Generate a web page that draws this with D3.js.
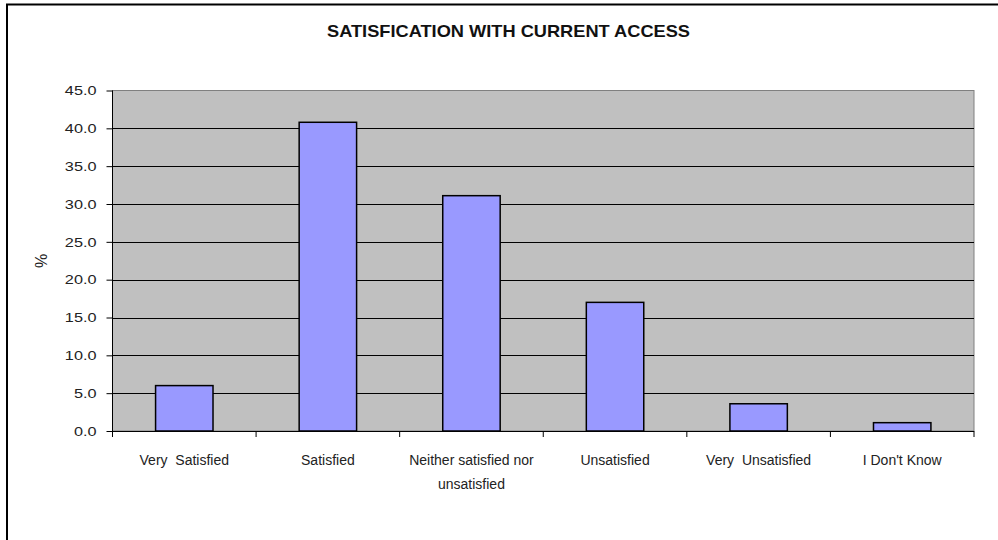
<!DOCTYPE html>
<html><head><meta charset="utf-8">
<script src="https://cdn.jsdelivr.net/npm/d3@7"></script>
<style>body{margin:0;background:#fff}svg{display:block}</style>
</head><body>
<svg id="c" width="998" height="540"></svg>
<script>
const categories = [["Very  Satisfied"], ["Satisfied"], ["Neither satisfied nor", "unsatisfied"], ["Unsatisfied"], ["Very  Unsatisfied"], ["I Don't Know"]];
const values = [6.0, 40.8, 31.1, 17.0, 3.6, 1.1];
const yTicks = [0, 5, 10, 15, 20, 25, 30, 35, 40, 45];
const title = "SATISFICATION WITH CURRENT ACCESS";
const yLabel = "%";

const svg = d3.select("#c");
const L = 112.5, R = 974, T = 90.5, B = 431;
const font = "'Liberation Sans', Arial, sans-serif";

// outer frame
svg.append("rect").attr("x", 7).attr("y", 4.5).attr("width", 1100).attr("height", 600)
  .attr("fill", "#fff").attr("stroke", "#000").attr("stroke-width", 2);

const x = d3.scaleBand().domain(d3.range(categories.length)).range([L, R]).paddingInner(0.6).paddingOuter(0.3);
const y = d3.scaleLinear().domain([0, 45]).range([B, T]);

svg.append("rect").attr("x", L).attr("y", T).attr("width", R - L).attr("height", B - T)
  .attr("fill", "#C0C0C0").attr("stroke", "#808080").attr("stroke-width", 1);

// gridlines
svg.append("g").selectAll("line").data(yTicks.filter(d => d > 0 && d < 45)).join("line")
  .attr("x1", L).attr("x2", R).attr("y1", d => Math.round(y(d)) + 0.5).attr("y2", d => Math.round(y(d)) + 0.5)
  .attr("stroke", "#000").attr("stroke-width", 1);

// bars
svg.append("g").selectAll("rect").data(values).join("rect")
  .attr("x", (d, i) => x(i)).attr("width", x.bandwidth())
  .attr("y", d => y(d)).attr("height", d => B - y(d))
  .attr("fill", "#9999FF").attr("stroke", "#000").attr("stroke-width", 1.5);

// y axis
const yAxis = d3.axisLeft(y).tickValues(yTicks).tickSize(6).tickPadding(10).tickFormat(d3.format(".1f"));
const gy = svg.append("g").attr("transform", `translate(${L},0)`).call(yAxis);
gy.select(".domain").attr("stroke", "#000").attr("d", `M0,${T}V${B + 6}`);
gy.selectAll(".tick line").attr("stroke", "#000");
gy.selectAll(".tick text").attr("font-family", font).attr("font-size", 13).attr("fill", "#222")
  .each(function () { const w = this.getComputedTextLength(); d3.select(this).attr("textLength", w * 1.25).attr("lengthAdjust", "spacingAndGlyphs"); });

// x axis
const step = (R - L) / categories.length;
const gx = svg.append("g");
gx.append("line").attr("x1", L).attr("x2", R).attr("y1", B + 0.5).attr("y2", B + 0.5).attr("stroke", "#000");
gx.selectAll("line.t").data(d3.range(categories.length + 1)).join("line").attr("class", "t")
  .attr("x1", i => L + i * step).attr("x2", i => L + i * step)
  .attr("y1", B).attr("y2", B + 6).attr("stroke", "#000");
gx.selectAll("text").data(categories).join("text")
  .attr("text-anchor", "middle").attr("font-family", font).attr("font-size", 14).attr("fill", "#222")
  .style("white-space", "pre")
  .each(function (d, i) {
    const t = d3.select(this);
    d.forEach((line, j) => {
      t.append("tspan").attr("x", x(i) + x.bandwidth() / 2).attr("y", 465 + j * 24).text(line);
    });
  });

// title
svg.append("text").attr("x", 508.5).attr("y", 37).attr("text-anchor", "middle")
  .attr("font-family", font).attr("font-weight", "bold").attr("font-size", 17).attr("fill", "#111")
  .attr("textLength", 363).attr("lengthAdjust", "spacingAndGlyphs").text(title);

// y label
svg.append("text").attr("transform", "translate(47,261) rotate(-90)").attr("text-anchor", "middle")
  .attr("font-family", font).attr("font-size", 16).attr("fill", "#222").text(yLabel);
</script>
</body></html>
